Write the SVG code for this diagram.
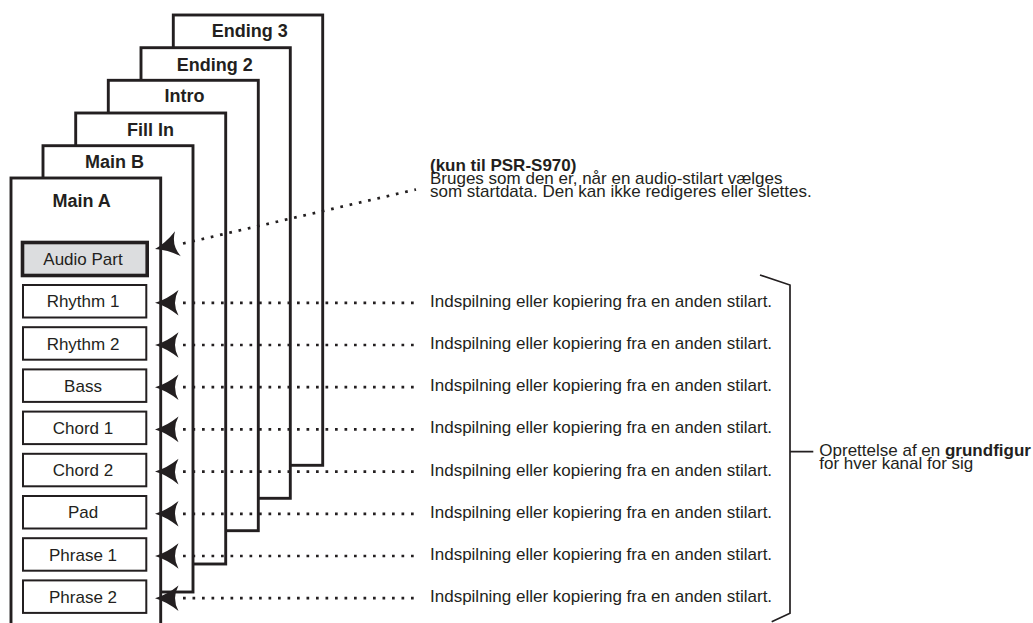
<svg xmlns="http://www.w3.org/2000/svg" xmlns:xlink="http://www.w3.org/1999/xlink" width="1033" height="623" viewBox="0 0 1033 623">
<style>
.card{fill:#fff;stroke:#231f20;stroke-width:2.9}
.cl{font-family:"Liberation Sans",Arial,sans-serif;font-weight:bold;font-size:18px;fill:#231f20;text-anchor:middle}
.pb{fill:#fff;stroke:#231f20;stroke-width:2}
.pa{fill:#dcdddf;stroke:#231f20;stroke-width:3.6}
.pl{font-family:"Liberation Sans",Arial,sans-serif;font-size:17px;fill:#231f20;text-anchor:middle}
.t{font-family:"Liberation Sans",Arial,sans-serif;font-size:17px;fill:#231f20}
.b{font-weight:bold}
.dot{fill:none;stroke:#231f20;stroke-width:2.7;stroke-dasharray:2.7 6.8}
.ah{fill:#231f20}
.br{fill:none;stroke:#231f20;stroke-width:1.7}
</style>
<defs>
<path id="ah" d="M0,0 Q12,-3.5 23.5,-12.8 Q16.5,0 23.5,12.8 Q12,3.5 0,0Z"/>
</defs>
<rect width="1033" height="623" fill="#fff"/>
<g id="card-ending3"><rect class="card" x="173.3" y="15" width="149.4" height="450.3"/><text class="cl" x="249.7" y="37.3">Ending 3</text></g>
<g id="card-ending2"><rect class="card" x="141" y="47.7" width="149.3" height="450.6"/><text class="cl" x="214.7" y="70.7">Ending 2</text></g>
<g id="card-intro"><rect class="card" x="108.3" y="80.3" width="150" height="450.4"/><text class="cl" x="184.5" y="101.7">Intro</text></g>
<g id="card-fillin"><rect class="card" x="75.7" y="113" width="150" height="451"/><text class="cl" x="150.5" y="136">Fill In</text></g>
<g id="card-mainb"><rect class="card" x="43" y="145.7" width="150" height="446.3"/><text class="cl" x="114.5" y="168.3">Main B</text></g>
<g id="card-maina"><rect class="card" x="11" y="178" width="149.7" height="470"/><text class="cl" x="81.7" y="206.7">Main A</text></g>
<g id="part-audio"><rect class="pa" x="22.5" y="242.5" width="124.7" height="33"/><text class="pl" x="83" y="265">Audio Part</text></g>
<g id="part-rhythm1"><rect class="pb" x="23" y="285" width="123.3" height="32.5"/><text class="pl" x="83" y="307.3">Rhythm 1</text></g>
<g id="part-rhythm2"><rect class="pb" x="23" y="327.2" width="123.3" height="32.5"/><text class="pl" x="83" y="349.5">Rhythm 2</text></g>
<g id="part-bass"><rect class="pb" x="23" y="369.4" width="123.3" height="32.5"/><text class="pl" x="83" y="391.7">Bass</text></g>
<g id="part-chord1"><rect class="pb" x="23" y="411.6" width="123.3" height="32.5"/><text class="pl" x="83" y="433.9">Chord 1</text></g>
<g id="part-chord2"><rect class="pb" x="23" y="453.8" width="123.3" height="32.5"/><text class="pl" x="83" y="476.1">Chord 2</text></g>
<g id="part-pad"><rect class="pb" x="23" y="496" width="123.3" height="32.5"/><text class="pl" x="83" y="518.3">Pad</text></g>
<g id="part-phrase1"><rect class="pb" x="23" y="538.2" width="123.3" height="32.5"/><text class="pl" x="83" y="560.5">Phrase 1</text></g>
<g id="part-phrase2"><rect class="pb" x="23" y="580.4" width="123.3" height="32.5"/><text class="pl" x="83" y="602.7">Phrase 2</text></g>
<g id="connectors">
<path class="dot" d="M183,243.5 L416,189.5"/>
<use href="#ah" class="ah" transform="translate(155,249) rotate(-13)"/>
<path class="dot" d="M183,302.8H414M183,345H414M183,387.2H414M183,429.4H414M183,471.6H414M183,513.8H414M183,556H414M183,598.2H414"/>
<use href="#ah" class="ah" x="155" y="302.8"/>
<use href="#ah" class="ah" x="155" y="345"/>
<use href="#ah" class="ah" x="155" y="387.2"/>
<use href="#ah" class="ah" x="155" y="429.4"/>
<use href="#ah" class="ah" x="155" y="471.6"/>
<use href="#ah" class="ah" x="155" y="513.8"/>
<use href="#ah" class="ah" x="155" y="556"/>
<use href="#ah" class="ah" x="155" y="598.2"/>
</g>
<g id="note-audio">
<text class="t b" x="430" y="171">(kun til PSR-S970)</text>
<text class="t" x="430" y="184">Bruges som den er, når en audio-stilart vælges</text>
<text class="t" x="430" y="197">som startdata. Den kan ikke redigeres eller slettes.</text>
</g>
<g id="row-labels">
<text class="t" x="430" y="306.8">Indspilning eller kopiering fra en anden stilart.</text>
<text class="t" x="430" y="349">Indspilning eller kopiering fra en anden stilart.</text>
<text class="t" x="430" y="391.2">Indspilning eller kopiering fra en anden stilart.</text>
<text class="t" x="430" y="433.4">Indspilning eller kopiering fra en anden stilart.</text>
<text class="t" x="430" y="475.6">Indspilning eller kopiering fra en anden stilart.</text>
<text class="t" x="430" y="517.8">Indspilning eller kopiering fra en anden stilart.</text>
<text class="t" x="430" y="560">Indspilning eller kopiering fra en anden stilart.</text>
<text class="t" x="430" y="602.2">Indspilning eller kopiering fra en anden stilart.</text>
</g>
<g id="bracket">
<path class="br" d="M760,275 L790,285 V613.3 L771.7,621.7 M790,451.7 H813.3"/>
<text class="t" x="819.3" y="456.3">Oprettelse af en <tspan class="b">grundfigur</tspan></text>
<text class="t" x="819.3" y="469.3">for hver kanal for sig</text>
</g>
</svg>
